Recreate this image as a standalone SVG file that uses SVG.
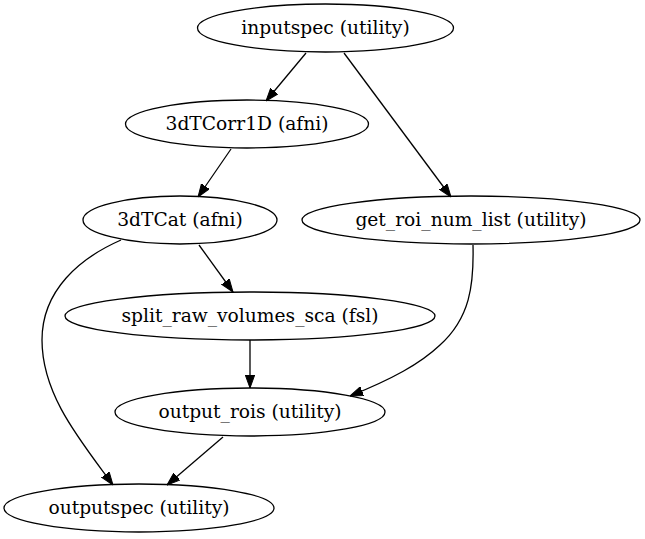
<svg xmlns="http://www.w3.org/2000/svg" width="645" height="539" viewBox="0 0 645 539">
<style>
.node ellipse{fill:none;stroke:#000;stroke-width:1.3}
.node text{font-family:"DejaVu Serif","Liberation Serif",serif;font-size:18.67px;text-anchor:middle;fill:#000}
.edges path{fill:none;stroke:#000;stroke-width:1.3}
</style>
<defs>
<marker id="arr" viewBox="0 0 13 10" refX="13" refY="5" markerWidth="13" markerHeight="10" markerUnits="userSpaceOnUse" orient="auto">
<path d="M0,0.3 L13,5 L0,9.7 z" fill="#000" stroke="#000" stroke-width="1"/>
</marker>
</defs>
<rect width="645" height="539" fill="#fff"/>
<g class="edges">
<path d="M306,53 L266,101" marker-end="url(#arr)"/>
<path d="M344,53 L451,197" marker-end="url(#arr)"/>
<path d="M231,149 L198,197" marker-end="url(#arr)"/>
<path d="M199,245 L233,292" marker-end="url(#arr)"/>
<path d="M121,240 C80,258 42,290 42,340 C42,395 80,440 113,485" marker-end="url(#arr)"/>
<path d="M473,245 C474,285 470,318 440,345 C420,364 392,379 350,396" marker-end="url(#arr)"/>
<path d="M250,340 L250,388" marker-end="url(#arr)"/>
<path d="M223,437 L167,485" marker-end="url(#arr)"/>
</g>
<g id="inputspec" class="node"><ellipse cx="325.5" cy="28" rx="128" ry="24"/><text x="325.5" y="34">inputspec (utility)</text></g>
<g id="tcorr1d" class="node"><ellipse cx="247" cy="124" rx="121.5" ry="24"/><text x="247" y="130">3dTCorr1D (afni)</text></g>
<g id="tcat" class="node"><ellipse cx="180" cy="220" rx="97" ry="24"/><text x="180" y="226">3dTCat (afni)</text></g>
<g id="get_roi_num_list" class="node"><ellipse cx="471" cy="220" rx="169" ry="24"/><text x="471" y="226">get_roi_num_list (utility)</text></g>
<g id="split_raw_volumes_sca" class="node"><ellipse cx="250" cy="316" rx="185" ry="24"/><text x="250" y="322">split_raw_volumes_sca (fsl)</text></g>
<g id="output_rois" class="node"><ellipse cx="250" cy="412" rx="135" ry="24"/><text x="250" y="418">output_rois (utility)</text></g>
<g id="outputspec" class="node"><ellipse cx="139" cy="508" rx="135" ry="24"/><text x="139" y="514">outputspec (utility)</text></g>
</svg>
